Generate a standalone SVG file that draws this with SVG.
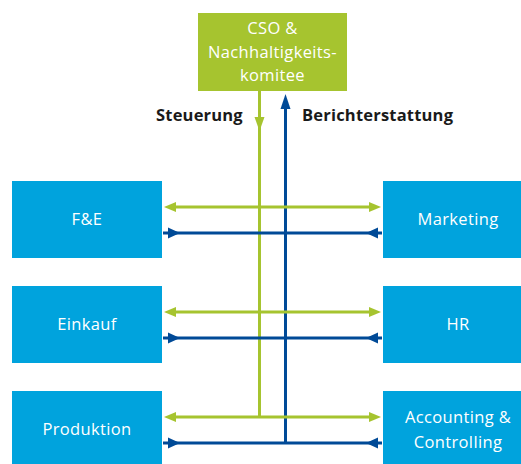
<svg xmlns="http://www.w3.org/2000/svg" width="521" height="464" viewBox="0 0 521 464">
<defs>
<style>
.box{fill:#00a3dd}
.top{fill:#a6c42f}
.bt{font-family:"Open Sans","Noto Sans",sans-serif;font-size:16.5px;letter-spacing:0.35px;fill:#fff;text-anchor:middle}
.lbl{font-family:"Open Sans","Noto Sans",sans-serif;font-size:16.5px;letter-spacing:0.2px;font-weight:bold;fill:#1a1a1a}
.g{stroke:#a6c42f;stroke-width:3;fill:none}
.b{stroke:#004a97;stroke-width:3;fill:none}
.gh{fill:#a6c42f}
.bh{fill:#004a97}
</style>
</defs>
<rect width="521" height="464" fill="#fff"/>
<g id="connectors">
<line class="g" x1="259.5" y1="91" x2="259.5" y2="418"/>
<line class="b" x1="285.5" y1="108" x2="285.5" y2="444"/>
<polygon class="gh" points="254.5,117 264.5,117 259.5,131"/>
<polygon class="bh" points="285.5,94 290.5,109 280.5,109"/>
<g id="row1">
<line class="g" x1="172" y1="207" x2="372" y2="207"/>
<polygon class="gh" points="164,207 176,202 176,212"/>
<polygon class="gh" points="381,207 369,202 369,212"/>
<line class="b" x1="163" y1="233" x2="382" y2="233"/>
<polygon class="bh" points="180,233 168,227.5 168,238.5"/>
<polygon class="bh" points="366,233 378,227.5 378,238.5"/>
</g>
<g id="row2">
<line class="g" x1="172" y1="312" x2="372" y2="312"/>
<polygon class="gh" points="164,312 176,307 176,317"/>
<polygon class="gh" points="381,312 369,307 369,317"/>
<line class="b" x1="163" y1="338" x2="382" y2="338"/>
<polygon class="bh" points="180,338 168,332.5 168,343.5"/>
<polygon class="bh" points="366,338 378,332.5 378,343.5"/>
</g>
<g id="row3">
<line class="g" x1="172" y1="417" x2="372" y2="417"/>
<polygon class="gh" points="164,417 176,412 176,422"/>
<polygon class="gh" points="381,417 369,412 369,422"/>
<line class="b" x1="163" y1="443" x2="382" y2="443"/>
<polygon class="bh" points="180,443 168,437.5 168,448.5"/>
<polygon class="bh" points="366,443 378,437.5 378,448.5"/>
</g>
</g>
<g id="cso">
<rect class="top" x="198" y="13" width="149" height="78"/>
<text class="bt" x="272.5" y="34">CSO &amp;</text>
<text class="bt" x="272.5" y="57.5">Nachhaltigkeits-</text>
<text class="bt" x="272.5" y="81">komitee</text>
</g>
<text class="lbl" x="156" y="121">Steuerung</text>
<text class="lbl" x="302" y="121">Berichterstattung</text>
<g id="fe">
<rect class="box" x="12" y="181" width="150" height="77"/>
<text class="bt" x="87" y="225">F&amp;E</text>
</g>
<g id="marketing">
<rect class="box" x="383" y="181" width="145" height="77"/>
<text class="bt" x="458" y="225">Marketing</text>
</g>
<g id="einkauf">
<rect class="box" x="12" y="286" width="150" height="77"/>
<text class="bt" x="87" y="330">Einkauf</text>
</g>
<g id="hr">
<rect class="box" x="383" y="286" width="145" height="77"/>
<text class="bt" x="458" y="330">HR</text>
</g>
<g id="produktion">
<rect class="box" x="12" y="391" width="150" height="77"/>
<text class="bt" x="87" y="435">Produktion</text>
</g>
<g id="accounting">
<rect class="box" x="383" y="391" width="145" height="77"/>
<text class="bt" x="458" y="423">Accounting &amp;</text>
<text class="bt" x="458" y="448">Controlling</text>
</g>
</svg>
